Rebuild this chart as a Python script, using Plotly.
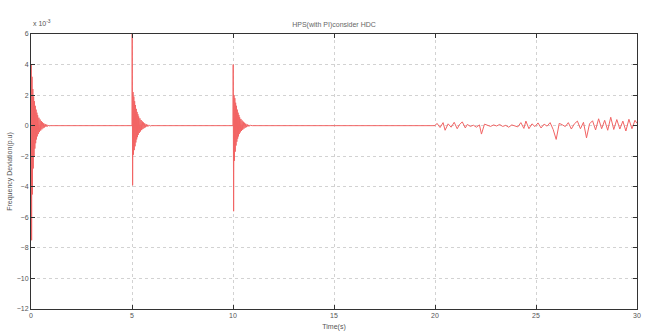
import plotly.graph_objects as go

# Frequency deviation (x 1e-3 p.u.) of the hybrid power system with PI control, HDC considered
title_text = "HPS(with PI)consider HDC"
x_title = "Time(s)"
y_title = "Frequency Deviation(p.u)"

x_ticks = [0, 5, 10, 15, 20, 25, 30]
y_ticks = [6, 4, 2, 0, -2, -4, -6, -8, -10, -12]

# Load disturbances applied at these instants (s)
disturbance_times = [0, 5, 10]

# Sample offsets (s) after each disturbance
ring_offsets = [0.00, 0.01, 0.03, 0.05, 0.07, 0.09, 0.11, 0.13, 0.15, 0.17,
                0.19, 0.21, 0.23, 0.25, 0.27, 0.29, 0.31, 0.33, 0.36, 0.39,
                0.42, 0.45, 0.48, 0.51, 0.54, 0.57, 0.60, 0.63, 0.66, 0.70,
                0.74, 0.78, 0.82, 0.86, 0.90, 0.95]

# Oscillatory responses after each disturbance (x 1e-3)
ring_t0 = [0.0, 4.0, -7.5, 3.2, -4.5, 2.4, -2.8, 1.9, -2.0, 1.6,
           -1.5, 1.3, -1.15, 1.05, -0.9, 0.85, -0.7, 0.68, -0.55, 0.52,
           -0.42, 0.4, -0.32, 0.3, -0.24, 0.22, -0.17, 0.16, -0.12, 0.11,
           -0.08, 0.07, -0.05, 0.04, -0.02, 0.0]
ring_t5 = [0.0, 6.0, -3.9, 2.2, -1.9, 1.9, -1.6, 1.6, -1.35, 1.35,
           -1.1, 1.1, -0.9, 0.9, -0.75, 0.75, -0.6, 0.6, -0.48, 0.48,
           -0.38, 0.37, -0.29, 0.28, -0.22, 0.21, -0.16, 0.15, -0.11, 0.1,
           -0.07, 0.06, -0.04, 0.03, -0.02, 0.0]
ring_t10 = [0.0, 4.0, -5.6, 2.0, -2.3, 1.8, -1.7, 1.5, -1.3, 1.3,
            -1.05, 1.05, -0.85, 0.85, -0.7, 0.7, -0.55, 0.55, -0.44, 0.44,
            -0.35, 0.34, -0.27, 0.26, -0.2, 0.19, -0.14, 0.13, -0.1, 0.09,
            -0.06, 0.05, -0.03, 0.02, -0.01, 0.0]

# Fluctuating renewable input from t = 20 s
noise_t = [20.0, 20.1, 20.25, 20.4, 20.5, 20.65, 20.8, 20.95, 21.1, 21.2,
           21.35, 21.5, 21.6, 21.75, 21.9, 22.05, 22.2, 22.3, 22.45, 22.6,
           22.75, 22.9, 23.05, 23.2, 23.35, 23.5, 23.65, 23.8, 23.95, 24.1,
           24.25, 24.4, 24.5, 24.65, 24.8, 24.95, 25.1, 25.25, 25.4, 25.55,
           25.7, 25.85, 26.0, 26.15, 26.3, 26.45, 26.6, 26.75, 26.9, 27.05,
           27.2, 27.35, 27.5, 27.65, 27.8, 27.95, 28.1, 28.25, 28.4, 28.55,
           28.7, 28.85, 29.0, 29.15, 29.3, 29.45, 29.6, 29.75, 29.9, 30.0]
noise_v = [0.0, 0.15, -0.12, 0.2, -0.3, 0.12, -0.1, 0.22, -0.2, 0.05,
           0.25, -0.15, 0.08, -0.05, 0.03, -0.1, 0.05, -0.55, 0.1, 0.02,
           -0.05, 0.05, -0.02, 0.08, -0.05, 0.02, -0.1, 0.05, 0.0, -0.08,
           0.2, -0.18, 0.3, -0.2, 0.12, -0.06, 0.18, -0.15, 0.1, -0.03,
           0.2, -0.25, -0.9, 0.15, 0.06, -0.06, 0.2, -0.22, 0.12, 0.3,
           -0.2, 0.22, -0.8, 0.12, 0.32, -0.28, 0.45, -0.2, 0.35, -0.3,
           0.55, -0.25, 0.4, -0.22, 0.3, -0.35, 0.42, -0.2, 0.35, 0.15]

# Assemble the full time series
t_all, v_all = [], []
for start, ring in zip(disturbance_times, [ring_t0, ring_t5, ring_t10]):
    t_all += [start + o for o in ring_offsets]
    v_all += ring
t_all += noise_t
v_all += noise_v

FONT = "Liberation Sans, Arial"

fig = go.Figure()
fig.add_trace(go.Scatter(
    x=t_all, y=v_all, mode="lines",
    line=dict(color="#f26464", width=1),
    showlegend=False, hoverinfo="skip",
))

axis_common = dict(
    showline=True, linecolor="#333333", linewidth=1, mirror="ticks",
    ticks="inside", ticklen=4, tickcolor="#333333",
    showgrid=True, gridcolor="#d2d2d2", griddash="dot", gridwidth=1,
    zeroline=False,
    tickfont=dict(family=FONT, size=7, color="#555555"),
)

fig.update_layout(
    width=646, height=334,
    margin=dict(l=31, r=5, t=34, b=25),
    paper_bgcolor="white", plot_bgcolor="white",
    title=dict(text=title_text, xref="paper", x=0.5, xanchor="center",
               y=0.926, yanchor="middle",
               font=dict(family=FONT, size=7, color="#666666")),
    xaxis=dict(range=[0, 30], tickvals=x_ticks,
               title=dict(text=x_title, standoff=5,
                          font=dict(family=FONT, size=7, color="#555555")),
               **axis_common),
    yaxis=dict(range=[-12, 6], tickvals=y_ticks,
               title=dict(text=y_title, standoff=3,
                          font=dict(family=FONT, size=7, color="#555555")),
               **axis_common),
    annotations=[dict(
        text="x 10<sup>-3</sup>", xref="paper", yref="paper",
        x=0.0, y=1.0, xanchor="left", yanchor="bottom", showarrow=False,
        font=dict(family=FONT, size=7, color="#555555"),
        yshift=5,
    )],
)

fig.write_html("out.html")
